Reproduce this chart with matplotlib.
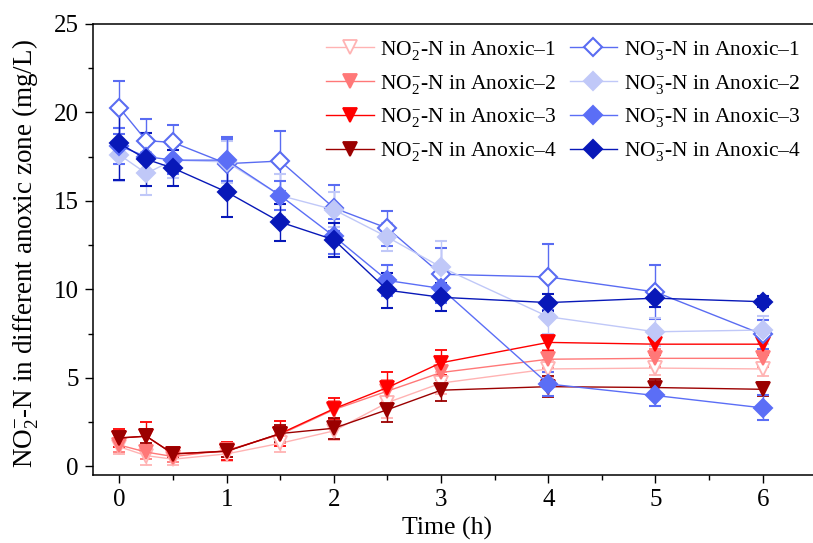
import matplotlib
matplotlib.use("Agg")
import matplotlib.pyplot as plt
from matplotlib.ticker import MultipleLocator

plt.rcParams['font.family'] = ['Liberation Serif', 'DejaVu Serif']
plt.rcParams['mathtext.fontset'] = 'custom'
plt.rcParams['mathtext.rm'] = 'Liberation Serif'
plt.rcParams['mathtext.it'] = 'Liberation Serif:italic'

time_h = [0, 0.25, 0.5, 1, 1.5, 2, 2.5, 3, 4, 5, 6]

# nitrite (NO2--N), mg/L
no2_a1 = [1.1, 0.6, 0.4, 0.7, 1.3, 2.0, 3.6, 4.7, 5.5, 5.55, 5.5]
no2_a2 = [1.2, 0.8, 0.55, 0.9, 1.8, 3.2, 4.25, 5.3, 6.05, 6.1, 6.1]
no2_a3 = [1.6, 1.7, 0.7, 0.85, 1.85, 3.25, 4.45, 5.85, 7.0, 6.9, 6.9]
no2_a4 = [1.6, 1.7, 0.7, 0.85, 1.85, 2.15, 3.2, 4.3, 4.5, 4.45, 4.35]
no2_a1_err = [0.4, 0.5, 0.3, 0.4, 0.5, 0.5, 0.9, 0.6, 0.5, 0.4, 0.4]
no2_a2_err = [0.4, 0.4, 0.3, 0.4, 0.5, 0.5, 0.6, 0.6, 0.5, 0.5, 0.5]
no2_a3_err = [0.5, 0.8, 0.2, 0.5, 0.7, 0.6, 0.9, 0.7, 0.5, 0.6, 0.6]
no2_a4_err = [0.3, 0.4, 0.2, 0.3, 0.5, 0.6, 0.7, 0.6, 0.6, 0.5, 0.4]

# nitrate (NO3--N), mg/L
no3_a1 = [20.25, 18.4, 18.3, 17.1, 17.25, 14.6, 13.45, 10.85, 10.7, 9.85, 7.45]
no3_a2 = [17.6, 16.55, 17.3, 17.2, 15.3, 14.5, 12.95, 11.25, 8.45, 7.6, 7.7]
no3_a3 = [18.1, 17.5, 17.3, 17.3, 15.3, 13.0, 10.5, 10.05, 4.65, 4.0, 3.3]
no3_a4 = [18.25, 17.35, 16.85, 15.5, 13.8, 12.8, 9.95, 9.55, 9.25, 9.5, 9.3]
no3_a1_err = [1.5, 1.2, 1.0, 1.5, 1.7, 1.3, 1.0, 1.5, 1.85, 1.5, 0.8]
no3_a2_err = [1.5, 1.2, 1.0, 1.2, 1.2, 1.0, 0.8, 1.5, 1.0, 0.8, 0.8]
no3_a3_err = [1.0, 1.0, 0.8, 1.2, 0.8, 1.0, 0.9, 0.8, 0.7, 0.6, 0.7]
no3_a4_err = [2.1, 1.5, 1.0, 1.4, 1.05, 0.95, 1.0, 0.8, 0.5, 0.5, 0.3]

anoxic = ['1', '2', '3', '4']
no2_series = [no2_a1, no2_a2, no2_a3, no2_a4]
no2_errs = [no2_a1_err, no2_a2_err, no2_a3_err, no2_a4_err]
no3_series = [no3_a1, no3_a2, no3_a3, no3_a4]
no3_errs = [no3_a1_err, no3_a2_err, no3_a3_err, no3_a4_err]
no2_colors = ['#ffb3b3', '#ff7878', '#ff0000', '#9b0000']
no3_colors = ['#5a6cf2', '#c0c8f8', '#5b6ef6', '#0818b8']

fig = plt.figure(figsize=(8.13, 5.43), dpi=100)
ax = fig.add_axes([0.114, 0.125, 0.89, 0.831])

handles = []
labels = []
for i, (vals, err) in enumerate(zip(no2_series, no2_errs)):
    c = no2_colors[i]
    eb = ax.errorbar(time_h, vals, yerr=err, color=c, marker='v', markersize=10,
                     markerfacecolor='white' if i == 0 else c, markeredgecolor=c,
                     markeredgewidth=1.3, linewidth=1, elinewidth=1, capsize=4)
    handles.append(eb[0])
    labels.append('NO$_2^{-}$-N in Anoxic\u2013' + anoxic[i])

for i, (vals, err) in enumerate(zip(no3_series, no3_errs)):
    c = no3_colors[i]
    eb = ax.errorbar(time_h, vals, yerr=err, color=c, marker='D', markersize=9,
                     markerfacecolor='white' if i == 0 else c, markeredgecolor=c,
                     markeredgewidth=1.5, linewidth=1, elinewidth=1, capsize=4)
    handles.append(eb[0])
    labels.append('NO$_3^{-}$-N in Anoxic\u2013' + anoxic[i])

ax.set_xlim(-0.25, 6.5)
ax.set_ylim(-0.5, 25)
ax.xaxis.set_major_locator(MultipleLocator(1))
ax.xaxis.set_minor_locator(MultipleLocator(0.5))
ax.yaxis.set_major_locator(MultipleLocator(5))
ax.yaxis.set_minor_locator(MultipleLocator(2.5))
ax.tick_params(which='major', direction='out', length=6, width=1, labelsize=18, pad=4)
ax.tick_params(which='minor', direction='out', length=3.5, width=1)
for s in ax.spines.values():
    s.set_linewidth(1.1)

ax.set_xlabel('Time (h)', fontsize=18.5)
ax.set_ylabel('NO$_2^{-}$-N in different anoxic zone (mg/L)', fontsize=19.5)
ax.yaxis.set_label_coords(-0.072, 0.49)
ax.xaxis.set_label_coords(0.49, -0.093)

ax.legend(handles, labels, loc='upper left', bbox_to_anchor=(0.302, 1.0), ncol=2,
          frameon=False, fontsize=15.5, handlelength=2.2, labelspacing=0.5,
          columnspacing=0.6, handletextpad=0.3, borderaxespad=0.3)

fig.savefig('out.png', dpi=100)
